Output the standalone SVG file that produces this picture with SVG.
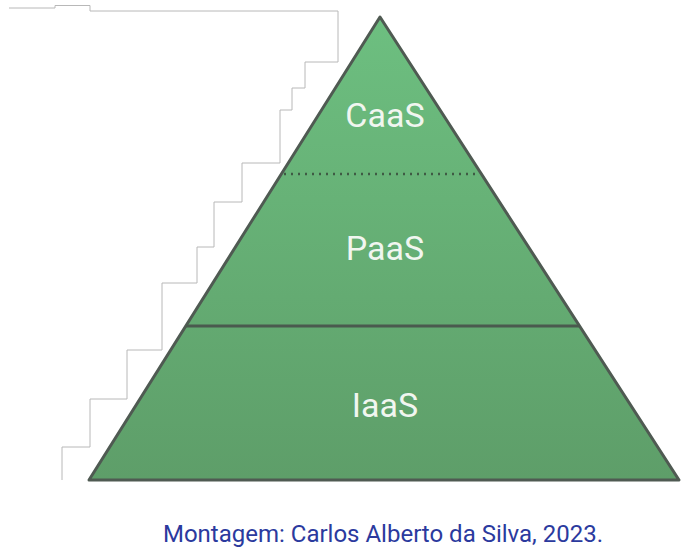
<svg xmlns="http://www.w3.org/2000/svg" width="689" height="552" viewBox="0 0 689 552">
<defs>
<linearGradient id="g" x1="0" y1="0" x2="0" y2="1">
<stop offset="0" stop-color="#6dbf80"/>
<stop offset="1" stop-color="#5e9e69"/>
</linearGradient>
<style>
.lbl{font-family:Roboto,"Liberation Sans",sans-serif;font-size:34px;fill:#f1f6f0;text-anchor:middle}
.cap{font-family:Roboto,"Liberation Sans",sans-serif;font-size:24px;fill:#2b3a9e;text-anchor:middle}
.stair{fill:none;stroke:#b8b8b8;stroke-width:1}
</style>
</defs>
<rect width="689" height="552" fill="#ffffff"/>
<path class="stair" d="M9 8H55V5.5H90V11H338V62H305V88H292V110H280V163H242V202H214V247H197V283H162V350H127V399H90V447H62V480"/>
<g id="pyramid">
<polygon points="380,17 679,480 89,480" fill="url(#g)" stroke="#4f5a52" stroke-width="3" stroke-linejoin="round"/>
</g>
<g id="connectors">
<line x1="284" y1="174" x2="479" y2="174" stroke="#3f5a44" stroke-width="2.5" stroke-dasharray="2 5"/>
<line x1="186" y1="326" x2="580" y2="326" stroke="#4a5a4e" stroke-width="3"/>
</g>
<g id="caas"><text class="lbl" x="385" y="127">CaaS</text></g>
<g id="paas"><text class="lbl" x="385" y="260">PaaS</text></g>
<g id="iaas"><text class="lbl" x="385" y="417">IaaS</text></g>
<g id="caption"><text class="cap" x="383" y="542">Montagem: Carlos Alberto da Silva, 2023.</text></g>
</svg>
